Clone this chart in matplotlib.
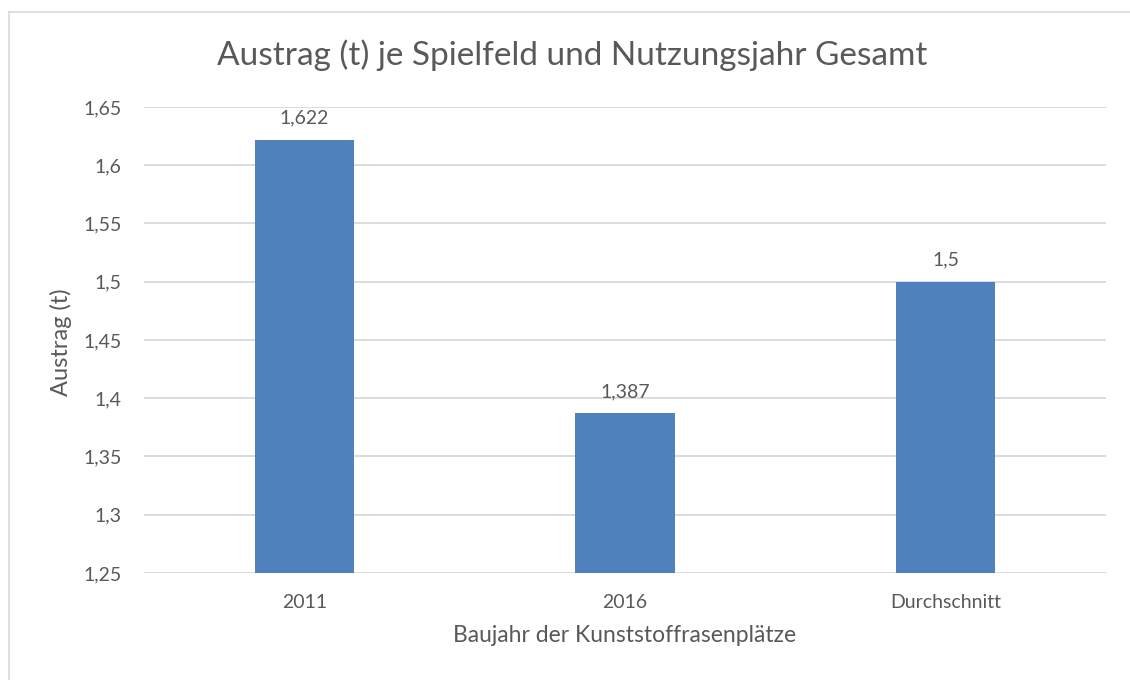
import numpy as np
import matplotlib.pyplot as plt
from matplotlib.lines import Line2D

# data
categories = ['2011', '2016', 'Durchschnitt']
austrag = [1.622, 1.387, 1.5]
value_labels = ['1,622', '1,387', '1,5']
y_ticks = [1.25, 1.3, 1.35, 1.4, 1.45, 1.5, 1.55, 1.6, 1.65]
y_tick_labels = ['1,25', '1,3', '1,35', '1,4', '1,45', '1,5', '1,55', '1,6', '1,65']

bar_color = '#4F81BD'
text_color = '#595959'
grid_color = '#D9D9D9'

plt.rcParams['font.family'] = ['Lato', 'DejaVu Sans']

fig = plt.figure(figsize=(11.3, 6.8), dpi=100)
ax = fig.add_axes([144/1130, 1 - 573/680, (1106 - 144)/1130, (573 - 107)/680])

x = np.arange(len(categories))
ax.bar(x, austrag, width=0.31, color=bar_color, zorder=3)

# value labels above bars
for xi, v, lab in zip(x, austrag, value_labels):
    ax.annotate(lab, (xi, v), xytext=(0, 9.5), textcoords='offset points',
                ha='center', va='bottom', fontsize=14, color=text_color)

ax.set_xlim(-0.5, len(categories) - 0.5)
ax.set_ylim(1.25, 1.65)
ax.set_yticks(y_ticks)
ax.set_yticklabels(y_tick_labels)
ax.set_xticks(x)
ax.set_xticklabels(categories)
ax.tick_params(axis='both', length=0, labelsize=14, colors=text_color)
ax.tick_params(axis='y', pad=16)
ax.tick_params(axis='x', pad=15)
ax.grid(axis='y', color=grid_color, linewidth=1.3, zorder=0)
for s in ax.spines.values():
    s.set_visible(False)

ax.set_ylabel('Austrag (t)', fontsize=17, color=text_color, va='center')
ax.yaxis.set_label_coords((61 - 144) / 962, 0.495)
ax.set_xlabel('Baujahr der Kunststoffrasenplätze', fontsize=16.5, color=text_color, va='center')
ax.xaxis.set_label_coords(0.5, (573 - 636) / 466)

fig.text(572/1130, 1 - 55/680, 'Austrag (t) je Spielfeld und Nutzungsjahr Gesamt',
         ha='center', va='center', fontsize=24, color=text_color)

# chart frame (left and top edges visible)
fig.add_artist(Line2D([9/1130, 9/1130], [0, 1 - 12/680], transform=fig.transFigure,
                      color=grid_color, linewidth=1.2))
fig.add_artist(Line2D([9/1130, 1], [1 - 12/680, 1 - 12/680], transform=fig.transFigure,
                      color=grid_color, linewidth=1.2))

fig.savefig('out.png', dpi=100, facecolor='white')
